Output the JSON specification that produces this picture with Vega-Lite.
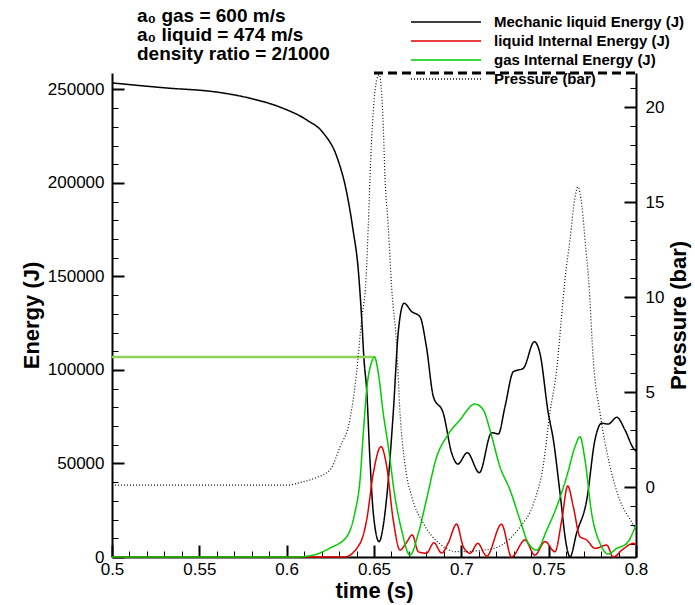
{
  "$schema": "https://vega.github.io/schema/vega-lite/v6.json",
  "width": 524,
  "height": 484,
  "autosize": {"type": "none"},
  "padding": {"left": 112, "top": 73, "right": 59, "bottom": 48},
  "background": "white",
  "config": {
    "font": "Liberation Sans",
    "view": {"stroke": null},
    "axis": {
      "domainColor": "black",
      "domainWidth": 2,
      "tickColor": "black",
      "labelColor": "black",
      "labelFont": "Liberation Sans",
      "labelFontSize": 17,
      "titleFont": "Liberation Sans",
      "titleFontSize": 22,
      "titleFontWeight": "bold",
      "titleColor": "black",
      "grid": false,
      "labelFlush": false,
      "labelOverlap": false
    }
  },
  "title": {
    "text": ["a₀ gas = 600 m/s", "a₀ liquid = 474 m/s", "density ratio = 2/1000"],
    "anchor": "start",
    "frame": "group",
    "dx": 25,
    "offset": -50,
    "fontSize": 19,
    "fontWeight": "bold",
    "font": "Liberation Sans",
    "lineHeight": 19,
    "color": "black"
  },
  "datasets": {
    "energy": [
      {"t": 0.5, "E": 253500, "s": "Mechanic liquid Energy (J)"},
      {"t": 0.531, "E": 250800, "s": "Mechanic liquid Energy (J)"},
      {"t": 0.56, "E": 248600, "s": "Mechanic liquid Energy (J)"},
      {"t": 0.579, "E": 245300, "s": "Mechanic liquid Energy (J)"},
      {"t": 0.598, "E": 239900, "s": "Mechanic liquid Energy (J)"},
      {"t": 0.6115, "E": 233700, "s": "Mechanic liquid Energy (J)"},
      {"t": 0.621, "E": 226700, "s": "Mechanic liquid Energy (J)"},
      {"t": 0.6287, "E": 214100, "s": "Mechanic liquid Energy (J)"},
      {"t": 0.6344, "E": 194700, "s": "Mechanic liquid Energy (J)"},
      {"t": 0.638, "E": 174900, "s": "Mechanic liquid Energy (J)"},
      {"t": 0.641, "E": 153500, "s": "Mechanic liquid Energy (J)"},
      {"t": 0.643, "E": 126700, "s": "Mechanic liquid Energy (J)"},
      {"t": 0.6443, "E": 105300, "s": "Mechanic liquid Energy (J)"},
      {"t": 0.6458, "E": 89300, "s": "Mechanic liquid Energy (J)"},
      {"t": 0.6477, "E": 51900, "s": "Mechanic liquid Energy (J)"},
      {"t": 0.6496, "E": 23500, "s": "Mechanic liquid Energy (J)"},
      {"t": 0.6529, "E": 8200, "s": "Mechanic liquid Energy (J)"},
      {"t": 0.6555, "E": 18000, "s": "Mechanic liquid Energy (J)"},
      {"t": 0.6573, "E": 32200, "s": "Mechanic liquid Energy (J)"},
      {"t": 0.661, "E": 76800, "s": "Mechanic liquid Energy (J)"},
      {"t": 0.664, "E": 121400, "s": "Mechanic liquid Energy (J)"},
      {"t": 0.6672, "E": 135700, "s": "Mechanic liquid Energy (J)"},
      {"t": 0.6716, "E": 131200, "s": "Mechanic liquid Energy (J)"},
      {"t": 0.6763, "E": 128500, "s": "Mechanic liquid Energy (J)"},
      {"t": 0.68, "E": 112500, "s": "Mechanic liquid Energy (J)"},
      {"t": 0.684, "E": 85700, "s": "Mechanic liquid Energy (J)"},
      {"t": 0.6897, "E": 76800, "s": "Mechanic liquid Energy (J)"},
      {"t": 0.6945, "E": 55500, "s": "Mechanic liquid Energy (J)"},
      {"t": 0.698, "E": 49700, "s": "Mechanic liquid Energy (J)"},
      {"t": 0.7034, "E": 55800, "s": "Mechanic liquid Energy (J)"},
      {"t": 0.7103, "E": 45100, "s": "Mechanic liquid Energy (J)"},
      {"t": 0.7174, "E": 66500, "s": "Mechanic liquid Energy (J)"},
      {"t": 0.7212, "E": 65800, "s": "Mechanic liquid Energy (J)"},
      {"t": 0.725, "E": 80400, "s": "Mechanic liquid Energy (J)"},
      {"t": 0.7298, "E": 99100, "s": "Mechanic liquid Energy (J)"},
      {"t": 0.7355, "E": 100900, "s": "Mechanic liquid Energy (J)"},
      {"t": 0.7418, "E": 115100, "s": "Mechanic liquid Energy (J)"},
      {"t": 0.745, "E": 108900, "s": "Mechanic liquid Energy (J)"},
      {"t": 0.7498, "E": 76800, "s": "Mechanic liquid Energy (J)"},
      {"t": 0.7527, "E": 62600, "s": "Mechanic liquid Energy (J)"},
      {"t": 0.7565, "E": 34200, "s": "Mechanic liquid Energy (J)"},
      {"t": 0.7603, "E": 5500, "s": "Mechanic liquid Energy (J)"},
      {"t": 0.7622, "E": 0, "s": "Mechanic liquid Energy (J)"},
      {"t": 0.766, "E": 12800, "s": "Mechanic liquid Energy (J)"},
      {"t": 0.7718, "E": 30500, "s": "Mechanic liquid Energy (J)"},
      {"t": 0.7765, "E": 62600, "s": "Mechanic liquid Energy (J)"},
      {"t": 0.7803, "E": 71500, "s": "Mechanic liquid Energy (J)"},
      {"t": 0.7841, "E": 71100, "s": "Mechanic liquid Energy (J)"},
      {"t": 0.789, "E": 74700, "s": "Mechanic liquid Energy (J)"},
      {"t": 0.7937, "E": 67900, "s": "Mechanic liquid Energy (J)"},
      {"t": 0.7985, "E": 58100, "s": "Mechanic liquid Energy (J)"},
      {"t": 0.8, "E": 56500, "s": "Mechanic liquid Energy (J)"},

      {"t": 0.5, "E": 0, "s": "liquid Internal Energy (J)"},
      {"t": 0.633, "E": 0, "s": "liquid Internal Energy (J)"},
      {"t": 0.642, "E": 7300, "s": "liquid Internal Energy (J)"},
      {"t": 0.6458, "E": 19800, "s": "liquid Internal Energy (J)"},
      {"t": 0.6496, "E": 44800, "s": "liquid Internal Energy (J)"},
      {"t": 0.654, "E": 59000, "s": "liquid Internal Energy (J)"},
      {"t": 0.6573, "E": 48300, "s": "liquid Internal Energy (J)"},
      {"t": 0.661, "E": 19800, "s": "liquid Internal Energy (J)"},
      {"t": 0.6649, "E": 3700, "s": "liquid Internal Energy (J)"},
      {"t": 0.6683, "E": 7300, "s": "liquid Internal Energy (J)"},
      {"t": 0.6719, "E": 11800, "s": "liquid Internal Energy (J)"},
      {"t": 0.6754, "E": 2800, "s": "liquid Internal Energy (J)"},
      {"t": 0.68, "E": 2000, "s": "liquid Internal Energy (J)"},
      {"t": 0.6843, "E": 7600, "s": "liquid Internal Energy (J)"},
      {"t": 0.6887, "E": 2100, "s": "liquid Internal Energy (J)"},
      {"t": 0.6925, "E": 7500, "s": "liquid Internal Energy (J)"},
      {"t": 0.6973, "E": 17600, "s": "liquid Internal Energy (J)"},
      {"t": 0.7011, "E": 5500, "s": "liquid Internal Energy (J)"},
      {"t": 0.705, "E": 2000, "s": "liquid Internal Energy (J)"},
      {"t": 0.7094, "E": 7300, "s": "liquid Internal Energy (J)"},
      {"t": 0.7145, "E": 500, "s": "liquid Internal Energy (J)"},
      {"t": 0.723, "E": 17500, "s": "liquid Internal Energy (J)"},
      {"t": 0.7288, "E": 0, "s": "liquid Internal Energy (J)"},
      {"t": 0.7364, "E": 9100, "s": "liquid Internal Energy (J)"},
      {"t": 0.7421, "E": 1000, "s": "liquid Internal Energy (J)"},
      {"t": 0.7479, "E": 8200, "s": "liquid Internal Energy (J)"},
      {"t": 0.7536, "E": 2800, "s": "liquid Internal Energy (J)"},
      {"t": 0.7575, "E": 19800, "s": "liquid Internal Energy (J)"},
      {"t": 0.7609, "E": 38000, "s": "liquid Internal Energy (J)"},
      {"t": 0.7641, "E": 26900, "s": "liquid Internal Energy (J)"},
      {"t": 0.7679, "E": 10900, "s": "liquid Internal Energy (J)"},
      {"t": 0.7718, "E": 9100, "s": "liquid Internal Energy (J)"},
      {"t": 0.7765, "E": 4600, "s": "liquid Internal Energy (J)"},
      {"t": 0.7832, "E": 6400, "s": "liquid Internal Energy (J)"},
      {"t": 0.787, "E": 0, "s": "liquid Internal Energy (J)"},
      {"t": 0.7927, "E": 4300, "s": "liquid Internal Energy (J)"},
      {"t": 0.7985, "E": 7300, "s": "liquid Internal Energy (J)"},
      {"t": 0.8, "E": 6500, "s": "liquid Internal Energy (J)"},

      {"t": 0.5, "E": 0, "s": "gas Internal Energy (J)"},
      {"t": 0.605, "E": 0, "s": "gas Internal Energy (J)"},
      {"t": 0.615, "E": 1000, "s": "gas Internal Energy (J)"},
      {"t": 0.6248, "E": 4800, "s": "gas Internal Energy (J)"},
      {"t": 0.6344, "E": 10900, "s": "gas Internal Energy (J)"},
      {"t": 0.639, "E": 23500, "s": "gas Internal Energy (J)"},
      {"t": 0.642, "E": 41200, "s": "gas Internal Energy (J)"},
      {"t": 0.644, "E": 67900, "s": "gas Internal Energy (J)"},
      {"t": 0.646, "E": 91100, "s": "gas Internal Energy (J)"},
      {"t": 0.6487, "E": 104400, "s": "gas Internal Energy (J)"},
      {"t": 0.6502, "E": 107100, "s": "gas Internal Energy (J)"},
      {"t": 0.6525, "E": 98200, "s": "gas Internal Energy (J)"},
      {"t": 0.6553, "E": 76800, "s": "gas Internal Energy (J)"},
      {"t": 0.6582, "E": 59000, "s": "gas Internal Energy (J)"},
      {"t": 0.662, "E": 32200, "s": "gas Internal Energy (J)"},
      {"t": 0.6658, "E": 14400, "s": "gas Internal Energy (J)"},
      {"t": 0.6706, "E": 1000, "s": "gas Internal Energy (J)"},
      {"t": 0.6754, "E": 12700, "s": "gas Internal Energy (J)"},
      {"t": 0.68, "E": 30500, "s": "gas Internal Energy (J)"},
      {"t": 0.6859, "E": 53600, "s": "gas Internal Energy (J)"},
      {"t": 0.6916, "E": 64300, "s": "gas Internal Energy (J)"},
      {"t": 0.6992, "E": 73300, "s": "gas Internal Energy (J)"},
      {"t": 0.7078, "E": 81800, "s": "gas Internal Energy (J)"},
      {"t": 0.7126, "E": 78600, "s": "gas Internal Energy (J)"},
      {"t": 0.7164, "E": 67900, "s": "gas Internal Energy (J)"},
      {"t": 0.7221, "E": 48300, "s": "gas Internal Energy (J)"},
      {"t": 0.7279, "E": 35800, "s": "gas Internal Energy (J)"},
      {"t": 0.7336, "E": 19800, "s": "gas Internal Energy (J)"},
      {"t": 0.7384, "E": 7300, "s": "gas Internal Energy (J)"},
      {"t": 0.7431, "E": 3700, "s": "gas Internal Energy (J)"},
      {"t": 0.7489, "E": 14400, "s": "gas Internal Energy (J)"},
      {"t": 0.7546, "E": 26900, "s": "gas Internal Energy (J)"},
      {"t": 0.7603, "E": 42900, "s": "gas Internal Energy (J)"},
      {"t": 0.7651, "E": 59000, "s": "gas Internal Energy (J)"},
      {"t": 0.7679, "E": 64300, "s": "gas Internal Energy (J)"},
      {"t": 0.7708, "E": 51900, "s": "gas Internal Energy (J)"},
      {"t": 0.7746, "E": 23400, "s": "gas Internal Energy (J)"},
      {"t": 0.7794, "E": 7300, "s": "gas Internal Energy (J)"},
      {"t": 0.7841, "E": 1600, "s": "gas Internal Energy (J)"},
      {"t": 0.789, "E": 4600, "s": "gas Internal Energy (J)"},
      {"t": 0.7947, "E": 7300, "s": "gas Internal Energy (J)"},
      {"t": 0.8, "E": 17000, "s": "gas Internal Energy (J)"}
    ],
    "gasref": [
      {"t": 0.5, "E": 107000},
      {"t": 0.6496, "E": 107000}
    ],
    "pressure": [
      {"t": 0.5, "P": 0.1, "s": "Pressure (bar)"},
      {"t": 0.6, "P": 0.1, "s": "Pressure (bar)"},
      {"t": 0.608, "P": 0.25, "s": "Pressure (bar)"},
      {"t": 0.617, "P": 0.5, "s": "Pressure (bar)"},
      {"t": 0.6248, "P": 0.9, "s": "Pressure (bar)"},
      {"t": 0.6305, "P": 2.1, "s": "Pressure (bar)"},
      {"t": 0.6363, "P": 3.6, "s": "Pressure (bar)"},
      {"t": 0.64, "P": 6.0, "s": "Pressure (bar)"},
      {"t": 0.643, "P": 8.9, "s": "Pressure (bar)"},
      {"t": 0.6454, "P": 10.9, "s": "Pressure (bar)"},
      {"t": 0.6467, "P": 13.7, "s": "Pressure (bar)"},
      {"t": 0.6481, "P": 17.2, "s": "Pressure (bar)"},
      {"t": 0.6496, "P": 19.8, "s": "Pressure (bar)"},
      {"t": 0.6515, "P": 21.4, "s": "Pressure (bar)"},
      {"t": 0.653, "P": 21.7, "s": "Pressure (bar)"},
      {"t": 0.6544, "P": 20.7, "s": "Pressure (bar)"},
      {"t": 0.6553, "P": 19.0, "s": "Pressure (bar)"},
      {"t": 0.6563, "P": 16.3, "s": "Pressure (bar)"},
      {"t": 0.6582, "P": 13.7, "s": "Pressure (bar)"},
      {"t": 0.6601, "P": 10.5, "s": "Pressure (bar)"},
      {"t": 0.663, "P": 7.4, "s": "Pressure (bar)"},
      {"t": 0.6649, "P": 3.9, "s": "Pressure (bar)"},
      {"t": 0.6677, "P": 1.2, "s": "Pressure (bar)"},
      {"t": 0.6716, "P": -0.5, "s": "Pressure (bar)"},
      {"t": 0.6782, "P": -1.9, "s": "Pressure (bar)"},
      {"t": 0.6878, "P": -3.0, "s": "Pressure (bar)"},
      {"t": 0.6973, "P": -3.4, "s": "Pressure (bar)"},
      {"t": 0.7145, "P": -3.3, "s": "Pressure (bar)"},
      {"t": 0.724, "P": -3.0, "s": "Pressure (bar)"},
      {"t": 0.7336, "P": -2.1, "s": "Pressure (bar)"},
      {"t": 0.7412, "P": -0.9, "s": "Pressure (bar)"},
      {"t": 0.747, "P": 1.2, "s": "Pressure (bar)"},
      {"t": 0.7507, "P": 3.9, "s": "Pressure (bar)"},
      {"t": 0.7546, "P": 6.2, "s": "Pressure (bar)"},
      {"t": 0.7575, "P": 9.1, "s": "Pressure (bar)"},
      {"t": 0.7593, "P": 10.9, "s": "Pressure (bar)"},
      {"t": 0.7622, "P": 13.0, "s": "Pressure (bar)"},
      {"t": 0.765, "P": 15.2, "s": "Pressure (bar)"},
      {"t": 0.7667, "P": 15.8, "s": "Pressure (bar)"},
      {"t": 0.769, "P": 14.8, "s": "Pressure (bar)"},
      {"t": 0.7713, "P": 12.5, "s": "Pressure (bar)"},
      {"t": 0.7729, "P": 10.9, "s": "Pressure (bar)"},
      {"t": 0.7757, "P": 6.5, "s": "Pressure (bar)"},
      {"t": 0.7794, "P": 3.9, "s": "Pressure (bar)"},
      {"t": 0.7851, "P": 1.1, "s": "Pressure (bar)"},
      {"t": 0.7908, "P": -0.7, "s": "Pressure (bar)"},
      {"t": 0.7966, "P": -1.7, "s": "Pressure (bar)"},
      {"t": 0.8, "P": -2.2, "s": "Pressure (bar)"}
    ]
  },
  "layer": [
    {
      "layer": [
        {
          "data": {"name": "energy"},
          "mark": {"type": "line", "strokeWidth": 1.5, "interpolate": "monotone"},
          "encoding": {
            "x": {
              "field": "t",
              "type": "quantitative",
              "scale": {"domain": [0.5, 0.8], "nice": false, "zero": false},
              "axis": {
                "orient": "bottom",
                "title": "time (s)",
                "values": [0.5, 0.55, 0.6, 0.65, 0.7, 0.75, 0.8],
                "format": ".2~f",
                "tickSize": -12,
                "tickWidth": 2,
                "labelPadding": 16,
                "titlePadding": 3
              }
            },
            "y": {
              "field": "E",
              "type": "quantitative",
              "scale": {"domain": [0, 258800], "nice": false},
              "axis": {
                "orient": "left",
                "title": "Energy (J)",
                "values": [0, 50000, 100000, 150000, 200000, 250000],
                "format": "d",
                "tickSize": -12,
                "tickWidth": 2,
                "labelPadding": 20,
                "titlePadding": 4
              }
            },
            "color": {
              "field": "s",
              "type": "nominal",
              "scale": {
                "domain": ["Mechanic liquid Energy (J)", "liquid Internal Energy (J)", "gas Internal Energy (J)", "Pressure (bar)"],
                "range": ["#000000", "#e00000", "#00cc00", "#111111"]
              },
              "legend": {
                "orient": "none",
                "legendX": 326,
                "legendY": -59,
                "title": null,
                "symbolType": "M-5,0L5,0",
                "symbolSize": 196,
                "symbolStrokeWidth": 1.5,
                "labelFont": "Liberation Sans",
                "labelFontSize": 15,
                "labelFontWeight": "bold",
                "labelColor": "black",
                "labelOffset": 40,
                "labelLimit": 400,
                "rowPadding": 3,
                "padding": 0
              }
            },
            "strokeDash": {
              "field": "s",
              "type": "nominal",
              "scale": {
                "domain": ["Mechanic liquid Energy (J)", "liquid Internal Energy (J)", "gas Internal Energy (J)", "Pressure (bar)"],
                "range": [[1, 0], [1, 0], [1, 0], [1, 2]]
              }
            }
          }
        },
        {
          "data": {"name": "gasref"},
          "mark": {"type": "line", "color": "#8cd25a", "strokeWidth": 2.5},
          "encoding": {
            "x": {"field": "t", "type": "quantitative"},
            "y": {"field": "E", "type": "quantitative"}
          }
        },
        {
          "data": {"values": [{}]},
          "mark": {"type": "rule", "color": "black", "strokeWidth": 3, "strokeDash": [9, 5]},
          "encoding": {
            "x": {"datum": 0.65, "type": "quantitative"},
            "x2": {"datum": 0.8},
            "y": {"datum": 258800, "type": "quantitative"}
          }
        }
      ]
    },
    {
      "data": {"name": "pressure"},
      "mark": {"type": "line", "strokeWidth": 1.2, "interpolate": "monotone"},
      "encoding": {
        "x": {"field": "t", "type": "quantitative", "scale": {"domain": [0.5, 0.8], "nice": false, "zero": false}, "axis": null},
        "y": {
          "field": "P",
          "type": "quantitative",
          "scale": {"domain": [-3.68, 21.79], "nice": false, "zero": false},
          "axis": {
            "orient": "right",
            "title": "Pressure (bar)",
            "titleAngle": 270,
            "values": [0, 5, 10, 15, 20],
            "tickSize": -12,
            "tickWidth": 2,
            "labelPadding": 21,
            "titlePadding": 27
          }
        },
        "color": {"field": "s", "type": "nominal"},
        "strokeDash": {"field": "s", "type": "nominal"}
      }
    },
    {
      "data": {"values": [{}]},
      "mark": {"type": "point", "opacity": 0},
      "encoding": {
        "x": {
          "datum": 0.5,
          "type": "quantitative",
          "scale": {"domain": [0.5, 0.8], "nice": false, "zero": false},
          "axis": {
            "orient": "bottom",
            "title": null,
            "labels": false,
            "domain": false,
            "values": [0.51,0.52,0.53,0.54,0.56,0.57,0.58,0.59,0.61,0.62,0.63,0.64,0.66,0.67,0.68,0.69,0.71,0.72,0.73,0.74,0.76,0.77,0.78,0.79],
            "tickSize": -6,
            "tickWidth": 1
          }
        },
        "y": {
          "datum": 0,
          "type": "quantitative",
          "scale": {"domain": [0, 258800], "nice": false},
          "axis": {
            "orient": "left",
            "title": null,
            "labels": false,
            "domain": false,
            "values": [10000,20000,30000,40000,60000,70000,80000,90000,110000,120000,130000,140000,160000,170000,180000,190000,210000,220000,230000,240000],
            "tickSize": -6,
            "tickWidth": 1
          }
        }
      }
    },
    {
      "data": {"values": [{}]},
      "mark": {"type": "point", "opacity": 0},
      "encoding": {
        "x": {"datum": 0.5, "type": "quantitative", "scale": {"domain": [0.5, 0.8], "nice": false, "zero": false}, "axis": null},
        "y": {
          "datum": 0,
          "type": "quantitative",
          "scale": {"domain": [-3.68, 21.79], "nice": false, "zero": false},
          "axis": {
            "orient": "right",
            "title": null,
            "labels": false,
            "domain": false,
            "values": [-3,-2,-1,1,2,3,4,6,7,8,9,11,12,13,14,16,17,18,19,21],
            "tickSize": -6,
            "tickWidth": 1
          }
        }
      }
    }
  ],
  "resolve": {"scale": {"x": "independent", "y": "independent"}}
}
